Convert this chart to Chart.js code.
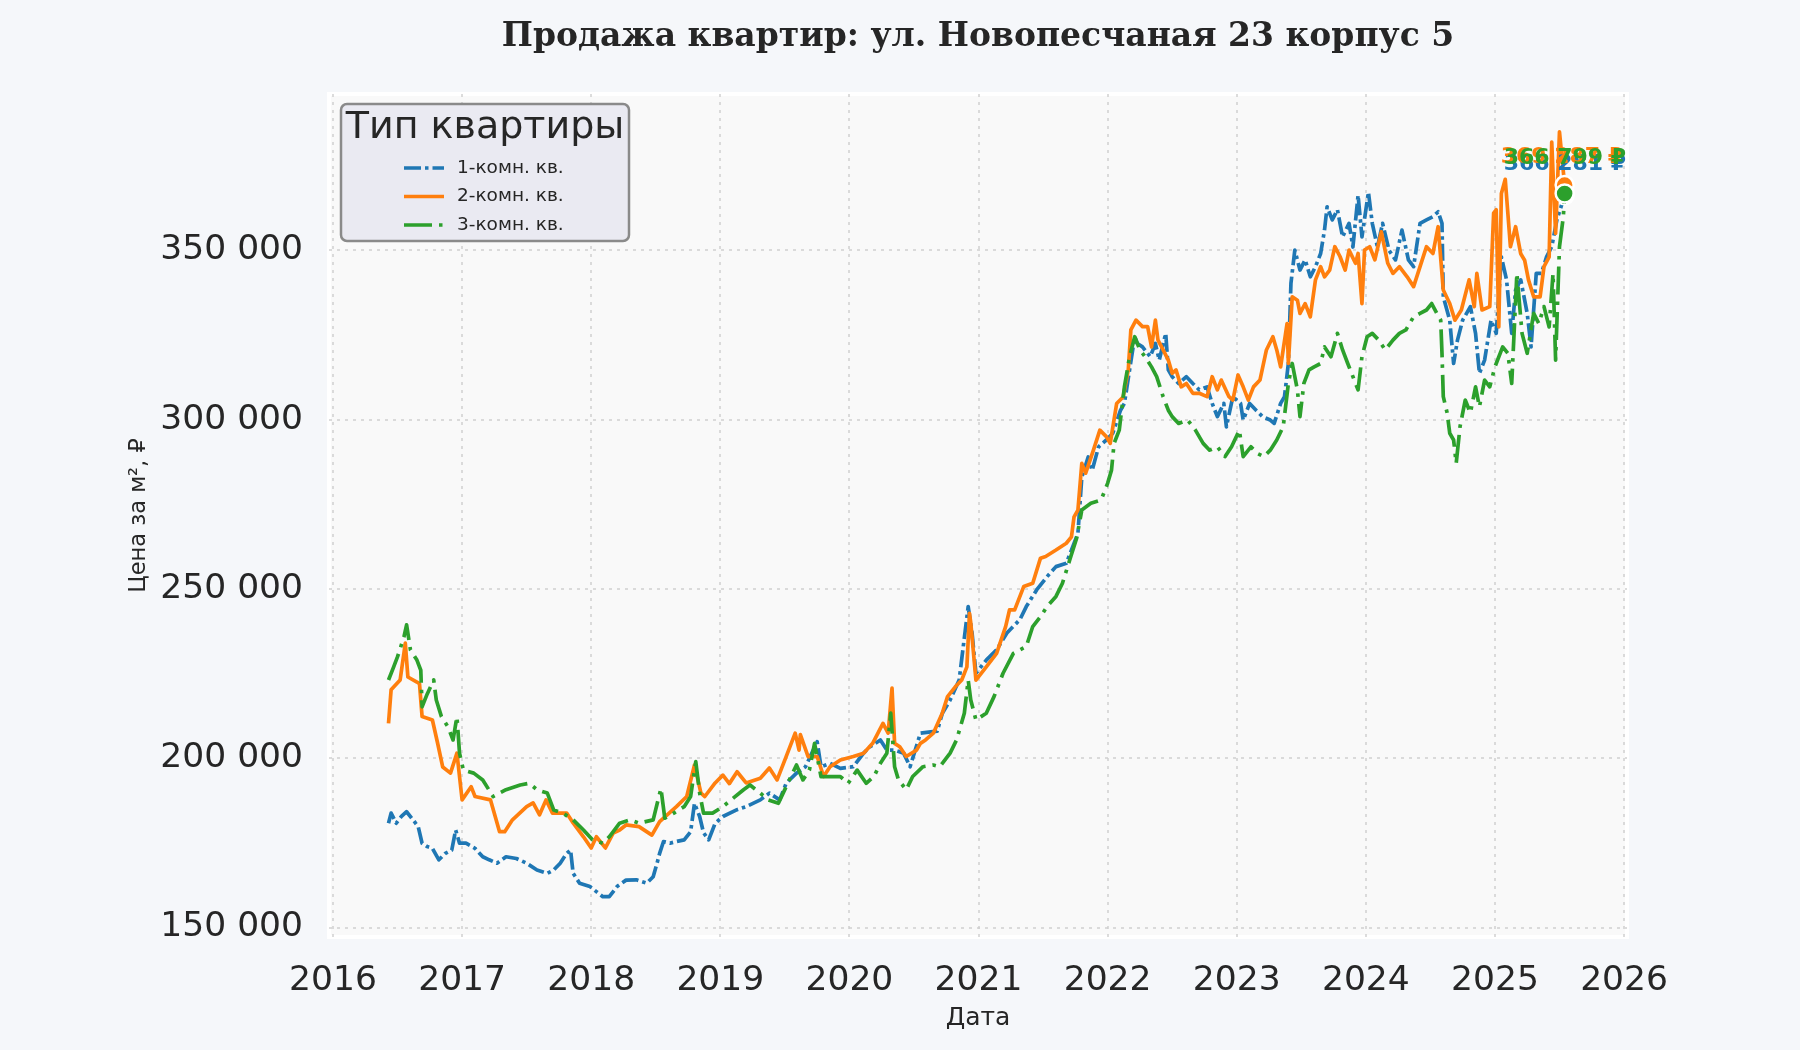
<!DOCTYPE html>
<html lang="ru">
<head>
<meta charset="utf-8">
<title>Продажа квартир</title>
<script src="https://cdn.jsdelivr.net/npm/chart.js@4.4.1/dist/chart.umd.min.js"></script>
<style>
  html, body { margin: 0; padding: 0; background: #f5f7fa; }
  #wrap { width: 1800px; height: 1050px; }
</style>
</head>
<body>
<div id="wrap"><canvas id="chart" width="1800" height="1050"></canvas></div>
<script>
// --- data (decimal year, price per m²) ---
const oneRoomYears = [2016.43, 2016.45, 2016.49, 2016.53, 2016.57, 2016.62, 2016.66, 2016.69, 2016.73, 2016.77, 2016.82, 2016.87, 2016.92, 2016.95, 2016.98, 2017.03, 2017.10, 2017.16, 2017.21, 2017.27, 2017.34, 2017.42, 2017.50, 2017.58, 2017.66, 2017.71, 2017.76, 2017.81, 2017.84, 2017.86, 2017.91, 2017.99, 2018.04, 2018.09, 2018.14, 2018.20, 2018.27, 2018.35, 2018.43, 2018.48, 2018.51, 2018.53, 2018.56, 2018.61, 2018.66, 2018.72, 2018.77, 2018.80, 2018.84, 2018.87, 2018.91, 2018.96, 2019.02, 2019.13, 2019.20, 2019.31, 2019.38, 2019.46, 2019.51, 2019.59, 2019.66, 2019.75, 2019.78, 2019.85, 2019.93, 2020.03, 2020.11, 2020.16, 2020.24, 2020.29, 2020.35, 2020.42, 2020.47, 2020.55, 2020.63, 2020.68, 2020.72, 2020.78, 2020.85, 2020.92, 2020.95, 2020.98, 2021.06, 2021.14, 2021.22, 2021.27, 2021.32, 2021.37, 2021.45, 2021.53, 2021.60, 2021.68, 2021.73, 2021.77, 2021.80, 2021.85, 2021.88, 2021.93, 2021.99, 2022.04, 2022.10, 2022.13, 2022.17, 2022.21, 2022.23, 2022.27, 2022.33, 2022.37, 2022.40, 2022.45, 2022.47, 2022.50, 2022.55, 2022.61, 2022.66, 2022.71, 2022.77, 2022.81, 2022.85, 2022.90, 2022.92, 2022.97, 2023.03, 2023.05, 2023.10, 2023.15, 2023.20, 2023.26, 2023.29, 2023.34, 2023.37, 2023.40, 2023.42, 2023.45, 2023.49, 2023.53, 2023.57, 2023.61, 2023.65, 2023.68, 2023.70, 2023.74, 2023.78, 2023.82, 2023.87, 2023.90, 2023.94, 2023.97, 2024.02, 2024.05, 2024.09, 2024.13, 2024.18, 2024.23, 2024.28, 2024.33, 2024.37, 2024.42, 2024.47, 2024.52, 2024.56, 2024.59, 2024.60, 2024.65, 2024.68, 2024.71, 2024.75, 2024.81, 2024.85, 2024.88, 2024.92, 2024.97, 2025.01, 2025.05, 2025.09, 2025.13, 2025.16, 2025.20, 2025.25, 2025.28, 2025.32, 2025.36, 2025.40, 2025.44, 2025.48, 2025.54];
const oneRoomPrices = [180800, 183800, 180800, 182800, 184200, 181800, 179800, 174900, 173900, 173400, 170000, 171900, 172900, 178800, 174900, 174900, 173400, 170900, 170000, 169000, 170900, 170400, 169000, 167000, 166000, 167000, 169000, 171900, 172900, 166000, 163100, 162100, 160600, 159100, 159100, 162100, 164000, 164100, 163100, 165000, 169000, 171900, 175400, 174900, 175400, 175900, 178300, 186700, 182800, 178000, 175900, 180800, 182800, 184800, 185700, 187700, 189700, 187700, 192600, 195600, 197500, 204900, 197500, 198500, 197000, 197500, 201500, 203400, 205400, 202400, 202400, 201500, 197500, 207400, 207800, 208000, 213300, 217200, 223100, 244800, 237000, 225100, 229000, 232000, 237000, 239000, 240900, 244800, 249700, 253600, 256600, 257600, 262500, 266400, 283000, 289000, 285000, 292000, 294000, 296000, 302800, 304800, 314700, 324500, 322500, 321500, 318600, 322500, 317600, 325500, 314700, 312700, 310700, 312700, 310700, 308800, 309700, 304800, 300900, 304800, 297900, 306800, 304800, 299900, 304800, 302800, 300900, 299900, 298900, 304800, 306800, 316600, 340300, 350100, 344200, 347200, 342200, 345200, 349100, 356000, 362900, 359000, 362000, 354000, 358000, 351000, 366300, 354000, 367200, 358000, 351000, 358000, 350000, 347200, 356000, 347200, 345200, 358000, 359000, 360000, 361400, 358000, 336300, 329400, 316600, 323500, 329400, 333400, 325500, 313700, 317600, 329400, 325500, 348100, 341300, 325500, 338300, 341300, 331400, 321500, 343200, 343200, 348100, 351100, 359000, 366281];

const twoRoomYears = [2016.43, 2016.45, 2016.52, 2016.56, 2016.58, 2016.65, 2016.67, 2016.69, 2016.77, 2016.81, 2016.85, 2016.91, 2016.96, 2017.00, 2017.07, 2017.10, 2017.22, 2017.29, 2017.33, 2017.39, 2017.50, 2017.55, 2017.60, 2017.65, 2017.70, 2017.81, 2017.86, 2017.94, 2018.00, 2018.04, 2018.11, 2018.17, 2018.22, 2018.27, 2018.37, 2018.47, 2018.53, 2018.66, 2018.74, 2018.80, 2018.85, 2018.88, 2018.96, 2019.02, 2019.07, 2019.13, 2019.20, 2019.31, 2019.38, 2019.44, 2019.51, 2019.58, 2019.61, 2019.62, 2019.68, 2019.75, 2019.80, 2019.85, 2019.93, 2020.03, 2020.11, 2020.18, 2020.26, 2020.30, 2020.33, 2020.35, 2020.39, 2020.44, 2020.52, 2020.55, 2020.59, 2020.65, 2020.72, 2020.76, 2020.82, 2020.87, 2020.91, 2020.93, 2020.94, 2020.98, 2021.06, 2021.14, 2021.21, 2021.24, 2021.28, 2021.35, 2021.42, 2021.48, 2021.52, 2021.60, 2021.68, 2021.72, 2021.74, 2021.77, 2021.80, 2021.83, 2021.89, 2021.94, 2021.99, 2022.02, 2022.07, 2022.12, 2022.16, 2022.18, 2022.22, 2022.27, 2022.31, 2022.34, 2022.37, 2022.39, 2022.43, 2022.47, 2022.50, 2022.53, 2022.57, 2022.61, 2022.66, 2022.71, 2022.77, 2022.81, 2022.85, 2022.88, 2022.94, 2022.97, 2023.01, 2023.05, 2023.09, 2023.13, 2023.18, 2023.23, 2023.28, 2023.31, 2023.34, 2023.39, 2023.40, 2023.43, 2023.47, 2023.49, 2023.53, 2023.57, 2023.61, 2023.65, 2023.68, 2023.72, 2023.76, 2023.80, 2023.84, 2023.87, 2023.92, 2023.94, 2023.97, 2023.99, 2024.03, 2024.07, 2024.12, 2024.17, 2024.21, 2024.26, 2024.32, 2024.37, 2024.42, 2024.47, 2024.52, 2024.56, 2024.60, 2024.65, 2024.69, 2024.74, 2024.80, 2024.84, 2024.86, 2024.90, 2024.96, 2024.99, 2025.01, 2025.03, 2025.05, 2025.08, 2025.12, 2025.16, 2025.20, 2025.23, 2025.26, 2025.30, 2025.35, 2025.38, 2025.42, 2025.44, 2025.47, 2025.50, 2025.54];
const twoRoomPrices = [210300, 220200, 223100, 234000, 224000, 222500, 222000, 212300, 211300, 204500, 197400, 195600, 201500, 187700, 191600, 188700, 187700, 178300, 178300, 181800, 185700, 186800, 183300, 187700, 183800, 183800, 180900, 176800, 173500, 176800, 173500, 177900, 178800, 180300, 179800, 177300, 181300, 185700, 188700, 198000, 189700, 188700, 192700, 195000, 192500, 196000, 192700, 194100, 197100, 193600, 200500, 207400, 202400, 207000, 200500, 200500, 194600, 197500, 199500, 200500, 201500, 204400, 210300, 207400, 220700, 204400, 203400, 200500, 202400, 204400, 205400, 207400, 213400, 218200, 221100, 223100, 227000, 242800, 240000, 223100, 227000, 231000, 238900, 243800, 243800, 250700, 251700, 259100, 259600, 261500, 263500, 265400, 271300, 273300, 287100, 284200, 291000, 296900, 295000, 293000, 304800, 306700, 314700, 326500, 329400, 327500, 327500, 321500, 329400, 323500, 320600, 317600, 313700, 314700, 309700, 310700, 307800, 307800, 306800, 312700, 308800, 311700, 306800, 305800, 313200, 309700, 305800, 309700, 311700, 320600, 324500, 320600, 315600, 328400, 316600, 336300, 335300, 331400, 334300, 330400, 341300, 345200, 342200, 344200, 351100, 348200, 344200, 350100, 346200, 349100, 334300, 350100, 351100, 347200, 355500, 346200, 343200, 345200, 342200, 339300, 345200, 351100, 349100, 357000, 338300, 334300, 329400, 332400, 341300, 333400, 343200, 332400, 333400, 361000, 362000, 327400, 366800, 371000, 351100, 357000, 349000, 347100, 341300, 336300, 336300, 345200, 348100, 382000, 355000, 385000, 369287];

const threeRoomYears = [2016.43, 2016.47, 2016.50, 2016.55, 2016.57, 2016.60, 2016.65, 2016.68, 2016.69, 2016.73, 2016.78, 2016.80, 2016.84, 2016.89, 2016.93, 2016.96, 2016.98, 2017.01, 2017.09, 2017.16, 2017.24, 2017.34, 2017.45, 2017.52, 2017.58, 2017.66, 2017.71, 2017.78, 2017.86, 2017.94, 2018.01, 2018.09, 2018.14, 2018.22, 2018.30, 2018.37, 2018.48, 2018.54, 2018.57, 2018.64, 2018.72, 2018.77, 2018.81, 2018.84, 2018.87, 2018.94, 2019.02, 2019.10, 2019.18, 2019.23, 2019.31, 2019.37, 2019.45, 2019.51, 2019.56, 2019.59, 2019.64, 2019.69, 2019.73, 2019.78, 2019.86, 2019.93, 2019.99, 2020.06, 2020.13, 2020.19, 2020.24, 2020.29, 2020.32, 2020.35, 2020.38, 2020.44, 2020.49, 2020.57, 2020.65, 2020.70, 2020.78, 2020.83, 2020.89, 2020.92, 2020.94, 2020.98, 2021.06, 2021.12, 2021.19, 2021.27, 2021.32, 2021.37, 2021.42, 2021.48, 2021.53, 2021.60, 2021.65, 2021.71, 2021.76, 2021.80, 2021.87, 2021.95, 2022.00, 2022.03, 2022.05, 2022.09, 2022.13, 2022.17, 2022.21, 2022.25, 2022.29, 2022.34, 2022.38, 2022.43, 2022.47, 2022.50, 2022.55, 2022.62, 2022.68, 2022.74, 2022.79, 2022.85, 2022.91, 2022.96, 2023.02, 2023.05, 2023.11, 2023.16, 2023.21, 2023.26, 2023.31, 2023.36, 2023.40, 2023.43, 2023.47, 2023.49, 2023.52, 2023.56, 2023.60, 2023.65, 2023.68, 2023.73, 2023.78, 2023.82, 2023.86, 2023.90, 2023.94, 2023.97, 2024.01, 2024.05, 2024.10, 2024.15, 2024.21, 2024.26, 2024.31, 2024.37, 2024.42, 2024.47, 2024.51, 2024.55, 2024.58, 2024.59, 2024.60, 2024.63, 2024.65, 2024.68, 2024.70, 2024.73, 2024.77, 2024.81, 2024.85, 2024.88, 2024.92, 2024.96, 2025.00, 2025.06, 2025.10, 2025.13, 2025.17, 2025.21, 2025.25, 2025.30, 2025.34, 2025.38, 2025.42, 2025.45, 2025.47, 2025.50, 2025.53, 2025.54];
const threeRoomPrices = [223100, 227000, 230000, 235900, 239400, 232000, 229000, 226000, 215200, 219000, 223100, 217200, 212300, 209300, 205400, 212300, 201500, 196500, 195600, 193600, 188700, 190700, 192100, 192600, 190700, 189700, 184700, 183800, 181800, 178800, 175900, 174900, 176800, 180800, 181800, 180800, 181800, 191100, 182300, 183800, 185700, 188700, 199000, 189700, 183800, 183800, 185700, 188200, 190700, 192100, 189700, 187700, 186700, 191600, 195600, 198000, 193600, 196500, 204400, 194600, 194600, 194600, 192600, 196500, 192600, 194600, 198500, 201500, 213300, 197500, 193600, 190700, 194600, 197500, 198000, 197500, 201500, 205400, 213300, 223100, 217200, 211300, 213300, 218200, 225100, 231000, 232000, 233000, 238900, 241800, 244800, 247800, 251700, 259000, 265000, 273300, 275300, 276300, 281200, 285100, 293000, 296900, 309700, 318600, 324500, 320600, 318600, 315600, 312700, 306800, 302800, 300900, 298900, 299900, 296900, 293000, 291000, 292000, 289100, 292000, 296900, 289100, 292000, 290000, 289100, 291000, 294000, 297900, 310700, 316600, 308800, 300900, 310700, 314700, 315600, 316600, 321500, 318600, 325500, 320600, 316600, 312700, 308800, 318600, 324500, 325500, 323500, 320600, 323500, 325500, 326500, 330400, 331400, 332400, 334300, 331400, 329400, 319600, 306800, 302000, 296000, 294000, 287100, 298000, 305800, 302000, 309700, 303800, 311700, 309700, 315600, 321500, 319600, 310700, 343200, 325500, 319600, 331400, 328400, 333400, 327400, 343200, 317600, 351100, 360000, 366799];

const seriesLabels = ['1-комн. кв.', '2-комн. кв.', '3-комн. кв.'];
const yTickValues = [150000, 200000, 250000, 300000, 350000];
const xTickValues = [2016, 2017, 2018, 2019, 2020, 2021, 2022, 2023, 2024, 2025, 2026];

// --- styling ---
const colors = ['#1f77b4', '#ff7f0e', '#2ca02c'];
const dashes = [[17, 4, 3.5, 4], [], [28, 7, 3.5, 7]];
const labelOffsets = [{ dx: -61, dy: -31 }, { dx: -64, dy: -28 }, { dx: -61, dy: -35 }];
const textColor = '#262626';

Chart.defaults.font.family = 'DejaVu Sans';
Chart.defaults.color = textColor;

function fmtNumber(v) {
  return Math.round(v).toString().replace(/\B(?=(\d{3})+(?!\d))/g, ' ');
}

function toPoints(xs, ys) {
  return xs.map((x, i) => ({ x: x, y: ys[i] }));
}

function makeDataset(i, xs, ys) {
  const last = xs.length - 1;
  return {
    label: seriesLabels[i],
    data: toPoints(xs, ys),
    borderColor: colors[i],
    backgroundColor: colors[i],
    borderWidth: 3.7,
    borderDash: dashes[i],
    borderCapStyle: 'butt',
    borderJoinStyle: 'round',
    tension: 0,
    fill: false,
    order: 3 - i, // green on top, like the original
    pointRadius: ctx => (ctx.dataIndex === last ? 9 : 0),
    pointHoverRadius: 0,
    pointBackgroundColor: colors[i],
    pointBorderColor: '#ffffff',
    pointBorderWidth: 2.5
  };
}

// plot area background with the white frame
const plotBackground = {
  id: 'plotBackground',
  beforeDraw(chart) {
    const { ctx, chartArea: a } = chart;
    ctx.save();
    ctx.fillStyle = '#f5f7fa';
    ctx.fillRect(0, 0, chart.width, chart.height);
    ctx.fillStyle = '#ffffff';
    ctx.fillRect(a.left - 2, a.top - 2, a.width + 4, a.height + 4);
    ctx.fillStyle = '#f9f9f9';
    ctx.fillRect(a.left + 2, a.top + 2, a.width - 4, a.height - 4);
    ctx.restore();
  }
};

// centre the title over the plot area, not the whole canvas
const titleOverArea = {
  id: 'titleOverArea',
  afterLayout(chart) {
    if (chart.titleBlock) {
      chart.titleBlock.left = chart.chartArea.left;
      chart.titleBlock.right = chart.chartArea.right;
    }
  }
};

// value labels next to the last point of every series
const lastValueLabels = {
  id: 'lastValueLabels',
  afterDatasetsDraw(chart) {
    const ctx = chart.ctx;
    ctx.save();
    ctx.font = 'bold 22px "DejaVu Sans"';
    ctx.textAlign = 'left';
    ctx.textBaseline = 'middle';
    chart.data.datasets.forEach((ds, i) => {
      const meta = chart.getDatasetMeta(i);
      const pt = meta.data[meta.data.length - 1];
      const value = ds.data[ds.data.length - 1].y;
      ctx.fillStyle = colors[i];
      ctx.fillText(fmtNumber(value) + ' ₽', pt.x + labelOffsets[i].dx, pt.y + labelOffsets[i].dy);
    });
    ctx.restore();
  }
};

// boxed legend in the top-left corner of the plot
const legendBox = {
  id: 'legendBox',
  afterDatasetsDraw(chart) {
    const { ctx, chartArea: a } = chart;
    const x = a.left + 12, y = a.top + 10, w = 288, h = 137;
    ctx.save();
    ctx.beginPath();
    ctx.roundRect(x, y, w, h, 6);
    ctx.fillStyle = '#eaeaf2';
    ctx.fill();
    ctx.lineWidth = 2.5;
    ctx.strokeStyle = '#8a8a8a';
    ctx.stroke();

    ctx.fillStyle = textColor;
    ctx.font = '38px "DejaVu Sans"';
    ctx.textAlign = 'center';
    ctx.textBaseline = 'middle';
    ctx.fillText('Тип квартиры', x + w / 2, y + 24);

    ctx.font = '18.5px "DejaVu Sans"';
    ctx.textAlign = 'left';
    chart.data.datasets.forEach((ds, i) => {
      const rowY = y + 64 + i * 28.5;
      ctx.beginPath();
      ctx.setLineDash(dashes[i]);
      ctx.lineWidth = 3.7;
      ctx.strokeStyle = colors[i];
      ctx.moveTo(x + 63, rowY);
      ctx.lineTo(x + 103, rowY);
      ctx.stroke();
      ctx.setLineDash([]);
      ctx.fillStyle = textColor;
      ctx.fillText(ds.label, x + 116, rowY);
    });
    ctx.restore();
  }
};

const gridStyle = {
  color: 'rgba(205, 205, 205, 0.7)',
  lineWidth: 2,
  drawTicks: false
};

new Chart(document.getElementById('chart').getContext('2d'), {
  type: 'line',
  data: {
    datasets: [
      makeDataset(0, oneRoomYears, oneRoomPrices),
      makeDataset(1, twoRoomYears, twoRoomPrices),
      makeDataset(2, threeRoomYears, threeRoomPrices)
    ]
  },
  options: {
    responsive: false,
    devicePixelRatio: 1,
    animation: false,
    layout: { padding: { left: 0, right: 173, top: 0, bottom: 0 } },
    plugins: {
      legend: { display: false },
      tooltip: { enabled: false },
      title: {
        display: true,
        text: 'Продажа квартир: ул. Новопесчаная 23 корпус 5',
        font: { family: 'DejaVu Serif', size: 33, weight: 'bold' },
        color: textColor,
        padding: { top: 18, bottom: 36.4 }
      }
    },
    scales: {
      x: {
        type: 'linear',
        min: 2015.969,
        max: 2026.023,
        afterBuildTicks: scale => { scale.ticks = xTickValues.map(v => ({ value: v })); },
        afterFit: scale => { scale.height = 113; },
        ticks: {
          font: { size: 34.5 },
          color: textColor,
          padding: 23,
          maxRotation: 0,
          callback: v => String(v)
        },
        grid: gridStyle,
        border: { display: false, dash: [3, 5] },
        title: {
          display: true,
          text: 'Дата',
          font: { size: 25 },
          color: textColor,
          padding: { top: 0, bottom: 17 }
        }
      },
      y: {
        type: 'linear',
        min: 147200,
        max: 396200,
        afterBuildTicks: scale => { scale.ticks = yTickValues.map(v => ({ value: v })); },
        afterFit: scale => { scale.width = 329; },
        ticks: {
          font: { size: 34.5 },
          color: textColor,
          padding: 26,
          callback: v => fmtNumber(v)
        },
        grid: gridStyle,
        border: { display: false, dash: [3, 5] },
        title: {
          display: true,
          text: 'Цена за м², ₽',
          font: { size: 22.5 },
          color: textColor,
          padding: { top: 126, bottom: 0 }
        }
      }
    }
  },
  plugins: [plotBackground, titleOverArea, lastValueLabels, legendBox]
});
</script>
</body>
</html>
